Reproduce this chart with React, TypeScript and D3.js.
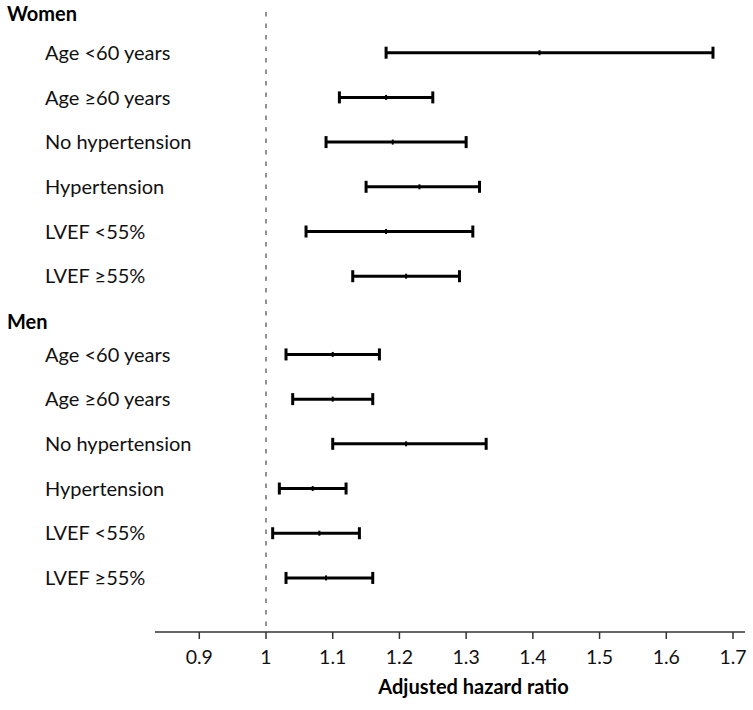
import React from "react";
import * as d3 from "d3";

const groups = ["Women", "Men"];
const rowLabels = [
  "Age <60 years",
  "Age ≥60 years",
  "No hypertension",
  "Hypertension",
  "LVEF <55%",
  "LVEF ≥55%",
];
const womenEst = [1.41, 1.18, 1.19, 1.23, 1.18, 1.21];
const womenLo = [1.18, 1.11, 1.09, 1.15, 1.06, 1.13];
const womenHi = [1.67, 1.25, 1.3, 1.32, 1.31, 1.29];
const menEst = [1.1, 1.1, 1.21, 1.07, 1.08, 1.09];
const menLo = [1.03, 1.04, 1.1, 1.02, 1.01, 1.03];
const menHi = [1.17, 1.16, 1.33, 1.12, 1.14, 1.16];
const tickValues = [0.9, 1, 1.1, 1.2, 1.3, 1.4, 1.5, 1.6, 1.7];
const referenceValue = 1;
const axisTitle = "Adjusted hazard ratio";

const W = 753;
const H = 710;
const FONT = "Lato, 'Open Sans', sans-serif";

export default function App() {
  const x = d3.scaleLinear().domain([1, 1.7]).range([266, 733]);
  // slot index -> y
  const y = d3.scaleLinear().domain([0, 1]).range([52.7, 97.4]);
  const axisY = 632;

  const series = [
    { name: groups[0], est: womenEst, lo: womenLo, hi: womenHi, offset: 0, header: -0.86 },
    { name: groups[1], est: menEst, lo: menLo, hi: menHi, offset: 6.75, header: 6.03 },
  ];

  const fmt = (v: number) => (v === 1 ? "1" : d3.format(".1f")(v));

  return (
    <svg
      width={W}
      height={H}
      style={{ position: "absolute", left: 0, top: 0, background: "#fff" }}
      fontFamily={FONT}
    >
      {/* reference dashed line */}
      <line
        x1={x(referenceValue)}
        x2={x(referenceValue)}
        y1={12}
        y2={axisY}
        stroke="#777"
        strokeWidth={1.6}
        strokeDasharray="4.5,7"
      />
      {series.map((s) => (
        <g key={s.name}>
          <text
            x={7}
            y={y(s.header)}
            dy="0.36em"
            fontSize={20}
            fontWeight={700}
            fill="#000"
          >
            {s.name}
          </text>
          {rowLabels.map((lab, i) => {
            const yy = y(s.offset + i);
            return (
              <g key={lab}>
                <text x={45} y={yy} dy="0.36em" fontSize={20} fill="#111">
                  {lab}
                </text>
                <line x1={x(s.lo[i])} x2={x(s.hi[i])} y1={yy} y2={yy} stroke="#000" strokeWidth={3} />
                <line x1={x(s.lo[i])} x2={x(s.lo[i])} y1={yy - 6} y2={yy + 6} stroke="#000" strokeWidth={3} />
                <line x1={x(s.hi[i])} x2={x(s.hi[i])} y1={yy - 6} y2={yy + 6} stroke="#000" strokeWidth={3} />
                <line x1={x(s.est[i])} x2={x(s.est[i])} y1={yy - 2.5} y2={yy + 2.5} stroke="#000" strokeWidth={2} />
              </g>
            );
          })}
        </g>
      ))}
      {/* x axis */}
      <line x1={155} x2={745} y1={axisY} y2={axisY} stroke="#333" strokeWidth={1.5} />
      {tickValues.map((t) => (
        <g key={t}>
          <line x1={x(t)} x2={x(t)} y1={axisY} y2={axisY + 7} stroke="#333" strokeWidth={1.5} />
          <text x={x(t)} y={664} textAnchor="middle" fontSize={19.5} fill="#111">
            {fmt(t)}
          </text>
        </g>
      ))}
      <text x={473.5} y={694} textAnchor="middle" fontSize={20} fontWeight={700} fill="#000">
        {axisTitle}
      </text>
    </svg>
  );
}
